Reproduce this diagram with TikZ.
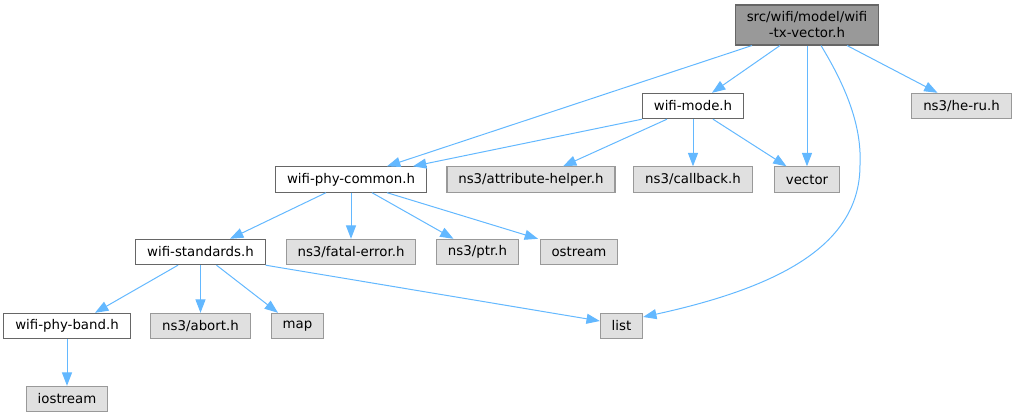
\documentclass[tikz,border=0pt]{standalone}
\usepackage{fontspec}
\setmainfont{DejaVu Sans}
\usetikzlibrary{arrows.meta,calc}
\definecolor{edgeblue}{HTML}{63B8FF}
\definecolor{boxgray}{HTML}{666666}
\definecolor{sysgray}{HTML}{999999}
\definecolor{sysfill}{HTML}{E0E0E0}
\definecolor{topfill}{HTML}{999999}
\begin{document}
\begin{tikzpicture}[x=0.75pt,y=-0.75pt,>={Triangle[length=10pt,width=7.5pt]},
				box/.style={draw=boxgray,line width=0.8pt,fill=white,inner xsep=8.5pt,inner ysep=0pt,minimum height=19pt,font=\fontsize{10}{12}\selectfont},
				sysbox/.style={box,draw=sysgray,fill=sysfill},
				topbox/.style={box,fill=topfill,minimum height=30pt,align=center},
				edge/.style={->,edgeblue,line width=0.75pt}]
				\useasboundingbox (0,0) rectangle (1015,417);
				%\draw[help lines] (0,0) grid (1015,417);
				\node[topbox] (top) at (807,25) {src/wifi/model/wifi\\-tx-vector.h};
				\node[box] (mode) at (693,106) {wifi-mode.h};
				\node[sysbox] (heru) at (961.5,106) {ns3/he-ru.h};
				\node[box] (common) at (351,179.5) {wifi-phy-common.h};
				\node[sysbox] (attr) at (531,179.5) {ns3/attribute-helper.h};
				\node[sysbox] (callback) at (693,179.5) {ns3/callback.h};
				\node[sysbox] (vector) at (807,179.5) {vector};
				\node[box] (standards) at (200.5,252) {wifi-standards.h};
				\node[sysbox] (fatal) at (351,252) {ns3/fatal-error.h};
				\node[sysbox] (ptr) at (477.5,252) {ns3/ptr.h};
				\node[sysbox] (ostream) at (579,252) {ostream};
				\node[box] (band) at (67,326) {wifi-phy-band.h};
				\node[sysbox] (abort) at (200.5,326) {ns3/abort.h};
				\node[sysbox] (map) at (297.5,326) {map};
				\node[sysbox] (list) at (621.5,326) {list};
				\node[sysbox] (iostream) at (67,399) {iostream};
				
				% straight down
				\foreach \A/\B in {top/vector,mode/callback,common/fatal,standards/abort,band/iostream}
				{\draw[edge] (\A) -- (\B);}
				
				% slanted, offsets from south / north
				\foreach \A/\S/\B/\E in {top/-55/common/36,top/-27/mode/19,top/40/heru/-24,mode/-26/attr/32,mode/20/vector/-20.5,common/-25/standards/29.5,common/21/ptr/-24,common/36/ostream/-41,standards/-22.5/band/28,standards/16/map/-19.5}
				{\draw[edge] ($(\A.south)+(\S,0)$) -- ($(\B.north)+(\E,0)$);}
				
				\draw[edge] (mode.south west) -- ($(common.north)+(62,0)$);
				\draw[edge] (standards.south east) -- ($(list.west)+(0,-5)$);
				\draw[edge] ($(top.south)+(14,0)$) .. controls (845,85) and (862,125) .. (860,165)
					.. controls (860,240) and (790,285) .. ($(list.east)+(0,-9)$);
			\end{tikzpicture}
\end{document}
